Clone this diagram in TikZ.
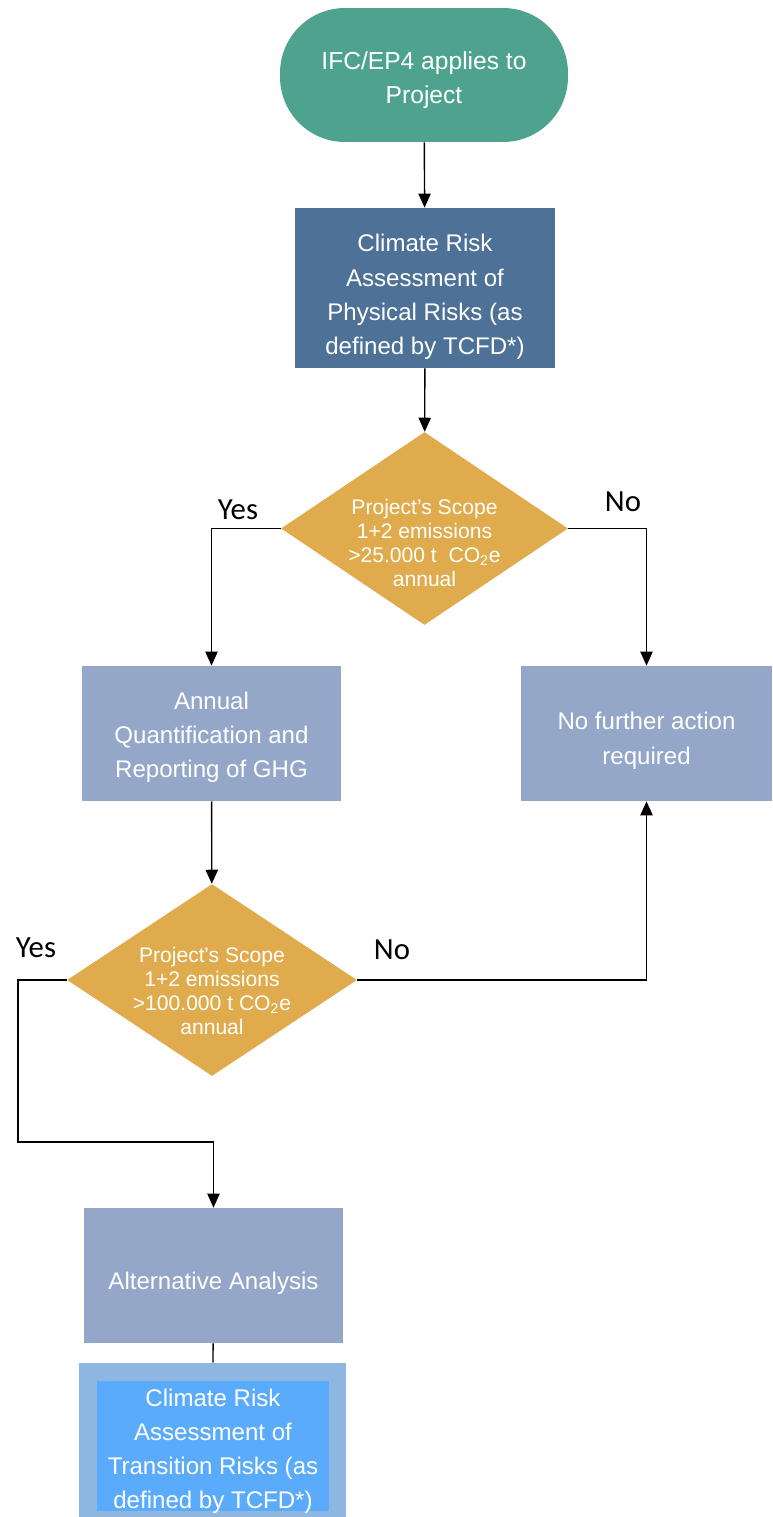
\documentclass[tikz,border=0pt]{standalone}
\usepackage{fontspec}
\setmainfont{Liberation Sans}
\newfontfamily\answerfont{Carlito}
\usepackage{xcolor}
\usetikzlibrary{arrows, arrows.meta, shapes.geometric}
\definecolor{startgreen}{HTML}{4EA38E}
\definecolor{physblue}{HTML}{4E7197}
\definecolor{decgold}{HTML}{E0AB4C}
\definecolor{stepgrey}{HTML}{94A7C8}
\definecolor{transouter}{HTML}{8DB7E1}
\definecolor{transinner}{HTML}{5AABFB}
% lowers a block of centred lines inside its shape, without giving it any height
\newcommand{\nudge}[2]{\raisebox{-#1}[0pt][0pt]{\begin{tabular}{@{}c@{}}#2\end{tabular}}}
\tikzset{
    startstop/.style={rectangle, rounded corners=1.3cm, fill=startgreen, text=white, inner sep=0pt, font=\fontsize{14}{19.5}\selectfont}, % the rounded start box
    process/.style={rectangle, text=white, inner sep=0pt, font=\fontsize{13.7}{19.5}\selectfont}, % sets the look of each box
    decision/.style={diamond, aspect=1.5, inner sep=0pt, fill=decgold, text=white, font=\fontsize{12}{13.7}\selectfont}, % yes/no questions
    answer/.style={font=\answerfont\fontsize{17.5}{20}\selectfont}, % Yes and No labels
}
\tikzstyle{arrow} = [thick, ->, >={Triangle[length=8pt, width=7pt]}]

\begin{document}
\begin{tikzpicture}[x=0.02cm, y=-0.02cm]
    \useasboundingbox (0,0) rectangle (772,1517);

    \node (start) [startstop, minimum width=5.76cm, minimum height=2.68cm] at (424,75) {\nudge{6.3pt}{IFC/EP4 applies to\\Project}};
    \node (phys) [process, fill=physblue, minimum width=5.2cm, minimum height=3.2cm] at (425,288) {\nudge{8.4pt}{Climate Risk\\Assessment of\\Physical Risks (as\\defined by TCFD*)}};
    \node (dec1) [decision, minimum width=5.74cm, minimum height=3.86cm] at (424.5,528.5) {\nudge{12.9pt}{Project’s Scope\\1+2 emissions\\>25.000 t~ CO\textsubscript{2}e\\annual}};
    \node (ghg) [process, fill=stepgrey, minimum width=5.18cm, minimum height=2.7cm] at (211.5,733.5) {\nudge{5.4pt}{Annual\\Quantification and\\Reporting of GHG}};
    \node (nofurther) [process, fill=stepgrey, minimum width=5.02cm, minimum height=2.7cm] at (646.5,733.5) {\nudge{7.4pt}{No further action\\required}};
    \node (dec2) [decision, minimum width=5.8cm, minimum height=3.84cm] at (212,980) {\nudge{10.7pt}{Project\textquotesingle s Scope\\1+2 emissions\\>100.000 t CO\textsubscript{2}e\\annual}};
    \node (alt) [process, fill=stepgrey, minimum width=5.18cm, minimum height=2.7cm] at (213.5,1275.5) {\nudge{7.4pt}{Alternative Analysis}};
    \node (trans) [process, fill=transouter, minimum width=5.34cm, minimum height=3.08cm] at (212.5,1440) {};
    \node (transin) [process, fill=transinner, minimum width=4.64cm, minimum height=2.6cm] at (213,1446) {\nudge{6.2pt}{Climate Risk\\Assessment of\\Transition Risks (as\\defined by TCFD*)}};
    \coordinate (loop) at (18,1142);

    % answers
    \node (yes1) [answer] at (238,510) {Yes};
    \node (no1) [answer] at (623,502) {No};
    \node (yes2) [answer] at (36,948) {Yes};
    \node (no2) [answer] at (392,950) {No};

    \draw [arrow] (start) -- (phys);
    \draw [arrow] (phys) -- (dec1);
    \draw [arrow] (dec1.west) -| (ghg.north);
    \draw [arrow] (dec1.east) -| (nofurther.north);
    \draw [arrow] (ghg) -- (dec2);
    \draw [arrow] (dec2.west) -| (loop) -| (alt.north);
    \draw [arrow] (dec2.east) -| (nofurther.south);
    \draw [thick] (alt) -- (trans);
\end{tikzpicture}
\end{document}
